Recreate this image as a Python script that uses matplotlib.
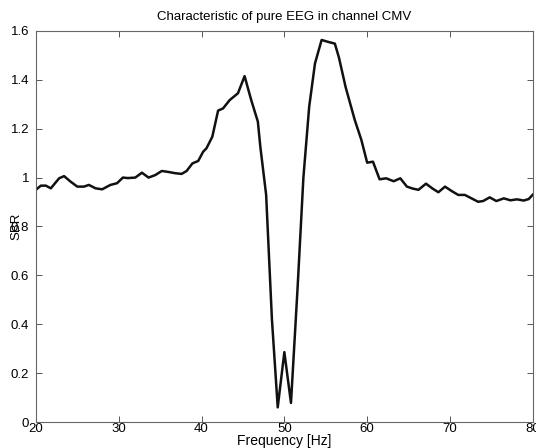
import numpy as np
import matplotlib
matplotlib.use("Agg")
import matplotlib.pyplot as plt

# Частота [Hz] та SBR
freq = [20.0, 20.6, 21.2, 21.8, 22.8, 23.4, 24.2, 25.0, 25.8, 26.4, 27.2, 28.0,
        29.0, 29.8, 30.5, 31.1, 32.0, 32.8, 33.6, 34.4, 35.2, 36.0, 36.8, 37.6,
        38.2, 38.9, 39.6, 40.2, 40.6, 41.3, 42.0, 42.6, 43.4, 44.4, 45.2, 46.0,
        46.8, 47.1, 47.8, 48.5, 49.2, 50.0, 50.8, 51.6, 52.3, 53.0, 53.7, 54.5,
        55.3, 56.1, 56.6, 57.4, 58.5, 59.3, 60.0, 60.7, 61.5, 62.3, 63.2, 64.0,
        64.8, 65.5, 66.2, 67.1, 67.9, 68.6, 69.4, 70.2, 71.0, 71.8, 72.6, 73.4,
        74.0, 74.8, 75.6, 76.5, 77.3, 78.1, 78.9, 79.5, 80.0]
sbr = [0.95, 0.967, 0.967, 0.956, 0.997, 1.006, 0.983, 0.963, 0.963, 0.97, 0.956, 0.952,
       0.97, 0.977, 1.0, 0.998, 1.0, 1.02, 1.0, 1.01, 1.027, 1.023, 1.018, 1.015,
       1.027, 1.058, 1.068, 1.106, 1.12, 1.167, 1.274, 1.283, 1.317, 1.345, 1.415, 1.317,
       1.229, 1.126, 0.93, 0.42, 0.06, 0.286, 0.078, 0.55, 1.0, 1.29, 1.467, 1.563,
       1.555, 1.548, 1.49, 1.37, 1.236, 1.154, 1.061, 1.065, 0.993, 0.997, 0.985, 0.997,
       0.963, 0.955, 0.95, 0.975, 0.955, 0.94, 0.963, 0.945, 0.929, 0.929, 0.915, 0.901,
       0.904, 0.919, 0.904, 0.915, 0.907, 0.911, 0.906, 0.912, 0.93]

plt.rcParams['font.family'] = ['Liberation Sans', 'DejaVu Sans']

fig = plt.figure(figsize=(5.36, 4.48), dpi=100)
ax = fig.add_axes([0.067, 0.058, 0.927, 0.873])
ax.plot(freq, sbr, color='#111111', linewidth=1.8)

ax.set_xlim(20, 80)
ax.set_ylim(0, 1.6)
ax.set_xticks(np.arange(20, 81, 10))
ax.set_yticks(np.arange(0, 1.61, 0.2))
ax.set_yticklabels(['0', '0.2', '0.4', '0.6', '0.8', '1', '1.2', '1.4', '1.6'])
ax.tick_params(direction='in', length=4, width=0.7, labelsize=9.5,
               top=True, right=True, color='#555555')
ax.tick_params(axis='x', pad=1)
ax.tick_params(axis='y', pad=5)
for s in ax.spines.values():
    s.set_color('#666666')
    s.set_linewidth(0.8)

ax.set_title('Characteristic of pure EEG in channel CMV', fontsize=9.5, pad=8)
ax.set_xlabel('Frequency [Hz]', fontsize=10, labelpad=-1)
ax.set_ylabel('SBR', fontsize=9.5, labelpad=-8.5)

fig.savefig('out.png', dpi=100)
